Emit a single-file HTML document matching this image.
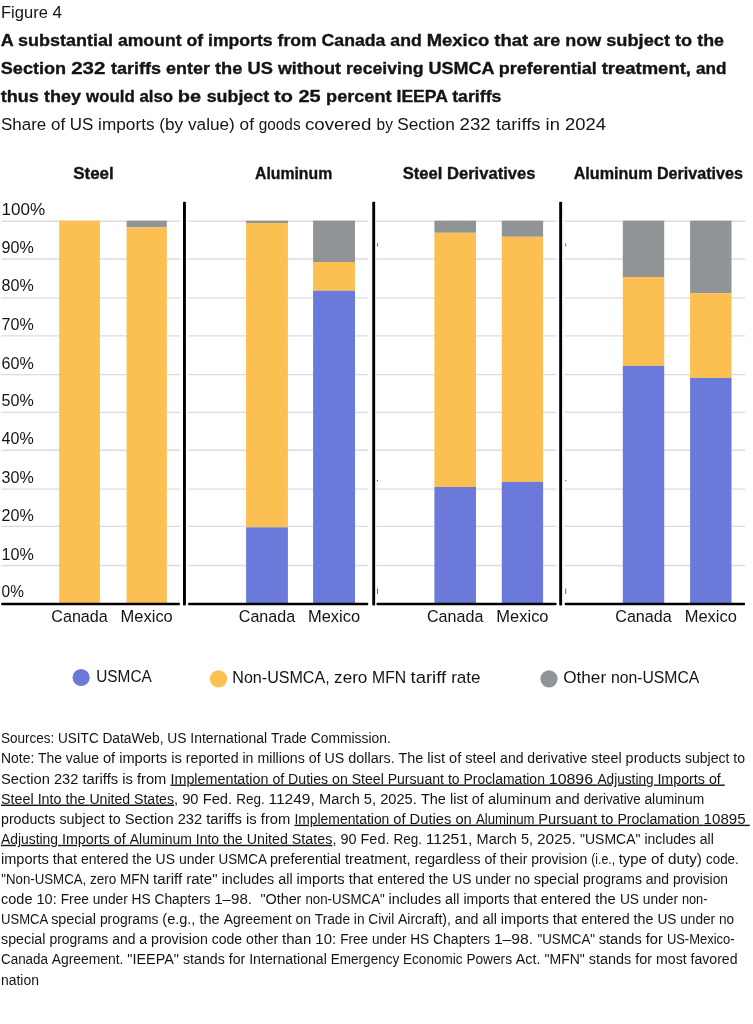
<!DOCTYPE html>
<html lang="en"><head><meta charset="utf-8"><title>Figure 4</title>
<style>
html,body{margin:0;padding:0;background:#fff;}
body{width:753px;height:1024px;overflow:hidden;}
svg{display:block;font-family:"Liberation Sans",sans-serif;fill:#141414;}
svg text{white-space:pre;}
</style></head><body>
<svg width="753" height="1024" viewBox="0 0 753 1024">
<rect width="753" height="1024" fill="#fff"/>
<text y="17.50" font-size="16.3"><tspan x="1.00" textLength="51.50" lengthAdjust="spacingAndGlyphs">Figure </tspan><tspan x="52.50" textLength="9.50" lengthAdjust="spacingAndGlyphs">4</tspan></text>
<text y="45.60" font-size="17" font-weight="700" stroke="#141414" stroke-width="0.35"><tspan x="0.80" textLength="117.10" lengthAdjust="spacingAndGlyphs">A substantial </tspan><tspan x="117.90" textLength="90.10" lengthAdjust="spacingAndGlyphs">amount of </tspan><tspan x="208.00" textLength="113.60" lengthAdjust="spacingAndGlyphs">imports from </tspan><tspan x="321.60" textLength="105.10" lengthAdjust="spacingAndGlyphs">Canada and </tspan><tspan x="426.70" textLength="106.60" lengthAdjust="spacingAndGlyphs">Mexico that </tspan><tspan x="533.30" textLength="72.90" lengthAdjust="spacingAndGlyphs">are now </tspan><tspan x="606.20" textLength="91.10" lengthAdjust="spacingAndGlyphs">subject to </tspan><tspan x="697.30" textLength="26.70" lengthAdjust="spacingAndGlyphs">the</tspan></text>
<text y="73.90" font-size="17" font-weight="700" stroke="#141414" stroke-width="0.35"><tspan x="0.80" textLength="70.40" lengthAdjust="spacingAndGlyphs">Section </tspan><tspan x="71.20" textLength="39.90" lengthAdjust="spacingAndGlyphs">232 </tspan><tspan x="111.10" textLength="103.90" lengthAdjust="spacingAndGlyphs">tariffs enter </tspan><tspan x="215.00" textLength="62.90" lengthAdjust="spacingAndGlyphs">the US </tspan><tspan x="277.90" textLength="68.10" lengthAdjust="spacingAndGlyphs">without </tspan><tspan x="346.00" textLength="82.40" lengthAdjust="spacingAndGlyphs">receiving </tspan><tspan x="428.40" textLength="70.40" lengthAdjust="spacingAndGlyphs">USMCA </tspan><tspan x="498.80" textLength="102.90" lengthAdjust="spacingAndGlyphs">preferential </tspan><tspan x="601.70" textLength="94.40" lengthAdjust="spacingAndGlyphs">treatment, </tspan><tspan x="696.10" textLength="30.40" lengthAdjust="spacingAndGlyphs">and</tspan></text>
<text y="102.10" font-size="17" font-weight="700" stroke="#141414" stroke-width="0.35"><tspan x="0.80" textLength="85.30" lengthAdjust="spacingAndGlyphs">thus they </tspan><tspan x="86.10" textLength="91.70" lengthAdjust="spacingAndGlyphs">would also </tspan><tspan x="177.80" textLength="28.90" lengthAdjust="spacingAndGlyphs">be </tspan><tspan x="206.70" textLength="67.40" lengthAdjust="spacingAndGlyphs">subject </tspan><tspan x="274.10" textLength="52.00" lengthAdjust="spacingAndGlyphs">to 25 </tspan><tspan x="326.10" textLength="70.40" lengthAdjust="spacingAndGlyphs">percent </tspan><tspan x="396.50" textLength="55.70" lengthAdjust="spacingAndGlyphs">IEEPA </tspan><tspan x="452.20" textLength="49.30" lengthAdjust="spacingAndGlyphs">tariffs</tspan></text>
<text y="129.50" font-size="16.3"><tspan x="1.00" textLength="97.10" lengthAdjust="spacingAndGlyphs">Share of US </tspan><tspan x="98.10" textLength="89.90" lengthAdjust="spacingAndGlyphs">imports (by </tspan><tspan x="188.00" textLength="70.70" lengthAdjust="spacingAndGlyphs">value) of </tspan><tspan x="258.70" textLength="46.20" lengthAdjust="spacingAndGlyphs">goods </tspan><tspan x="304.90" textLength="71.70" lengthAdjust="spacingAndGlyphs">covered </tspan><tspan x="376.60" textLength="20.60" lengthAdjust="spacingAndGlyphs">by </tspan><tspan x="397.20" textLength="62.40" lengthAdjust="spacingAndGlyphs">Section </tspan><tspan x="459.60" textLength="36.30" lengthAdjust="spacingAndGlyphs">232 </tspan><tspan x="495.90" textLength="69.10" lengthAdjust="spacingAndGlyphs">tariffs in </tspan><tspan x="565.00" textLength="41.00" lengthAdjust="spacingAndGlyphs">2024</tspan></text>
<text y="178.70" font-size="16.2" font-weight="700" stroke="#141414" stroke-width="0.35"><tspan x="73.20" textLength="40.60" lengthAdjust="spacingAndGlyphs">Steel</tspan></text>
<text y="178.70" font-size="16.2" font-weight="700" stroke="#141414" stroke-width="0.35"><tspan x="255.00" textLength="77.20" lengthAdjust="spacingAndGlyphs">Aluminum</tspan></text>
<text y="178.70" font-size="16.2" font-weight="700" stroke="#141414" stroke-width="0.35"><tspan x="402.70" textLength="132.80" lengthAdjust="spacingAndGlyphs">Steel Derivatives</tspan></text>
<text y="178.70" font-size="16.2" font-weight="700" stroke="#141414" stroke-width="0.35"><tspan x="573.70" textLength="169.30" lengthAdjust="spacingAndGlyphs">Aluminum Derivatives</tspan></text>
<line x1="1.2" x2="179.9" y1="565.50" y2="565.50" stroke="#dcdcdc" stroke-width="1.3"/>
<line x1="1.2" x2="179.9" y1="526.40" y2="526.40" stroke="#dcdcdc" stroke-width="1.3"/>
<line x1="1.2" x2="179.9" y1="489.10" y2="489.10" stroke="#dcdcdc" stroke-width="1.3"/>
<line x1="1.2" x2="179.9" y1="450.25" y2="450.25" stroke="#dcdcdc" stroke-width="1.3"/>
<line x1="1.2" x2="179.9" y1="412.40" y2="412.40" stroke="#dcdcdc" stroke-width="1.3"/>
<line x1="1.2" x2="179.9" y1="374.60" y2="374.60" stroke="#dcdcdc" stroke-width="1.3"/>
<line x1="1.2" x2="179.9" y1="335.90" y2="335.90" stroke="#dcdcdc" stroke-width="1.3"/>
<line x1="1.2" x2="179.9" y1="297.90" y2="297.90" stroke="#dcdcdc" stroke-width="1.3"/>
<line x1="1.2" x2="179.9" y1="259.00" y2="259.00" stroke="#dcdcdc" stroke-width="1.3"/>
<line x1="1.2" x2="179.9" y1="221.25" y2="221.25" stroke="#dcdcdc" stroke-width="1.3"/>
<line x1="188.1" x2="368.2" y1="565.50" y2="565.50" stroke="#dcdcdc" stroke-width="1.3"/>
<line x1="188.1" x2="368.2" y1="526.40" y2="526.40" stroke="#dcdcdc" stroke-width="1.3"/>
<line x1="188.1" x2="368.2" y1="489.10" y2="489.10" stroke="#dcdcdc" stroke-width="1.3"/>
<line x1="188.1" x2="368.2" y1="450.25" y2="450.25" stroke="#dcdcdc" stroke-width="1.3"/>
<line x1="188.1" x2="368.2" y1="412.40" y2="412.40" stroke="#dcdcdc" stroke-width="1.3"/>
<line x1="188.1" x2="368.2" y1="374.60" y2="374.60" stroke="#dcdcdc" stroke-width="1.3"/>
<line x1="188.1" x2="368.2" y1="335.90" y2="335.90" stroke="#dcdcdc" stroke-width="1.3"/>
<line x1="188.1" x2="368.2" y1="297.90" y2="297.90" stroke="#dcdcdc" stroke-width="1.3"/>
<line x1="188.1" x2="368.2" y1="259.00" y2="259.00" stroke="#dcdcdc" stroke-width="1.3"/>
<line x1="188.1" x2="368.2" y1="221.25" y2="221.25" stroke="#dcdcdc" stroke-width="1.3"/>
<line x1="376.5" x2="556.6" y1="565.50" y2="565.50" stroke="#dcdcdc" stroke-width="1.3"/>
<line x1="376.5" x2="556.6" y1="526.40" y2="526.40" stroke="#dcdcdc" stroke-width="1.3"/>
<line x1="376.5" x2="556.6" y1="489.10" y2="489.10" stroke="#dcdcdc" stroke-width="1.3"/>
<line x1="376.5" x2="556.6" y1="450.25" y2="450.25" stroke="#dcdcdc" stroke-width="1.3"/>
<line x1="376.5" x2="556.6" y1="412.40" y2="412.40" stroke="#dcdcdc" stroke-width="1.3"/>
<line x1="376.5" x2="556.6" y1="374.60" y2="374.60" stroke="#dcdcdc" stroke-width="1.3"/>
<line x1="376.5" x2="556.6" y1="335.90" y2="335.90" stroke="#dcdcdc" stroke-width="1.3"/>
<line x1="376.5" x2="556.6" y1="297.90" y2="297.90" stroke="#dcdcdc" stroke-width="1.3"/>
<line x1="376.5" x2="556.6" y1="259.00" y2="259.00" stroke="#dcdcdc" stroke-width="1.3"/>
<line x1="376.5" x2="556.6" y1="221.25" y2="221.25" stroke="#dcdcdc" stroke-width="1.3"/>
<line x1="564.7" x2="745.0" y1="565.50" y2="565.50" stroke="#dcdcdc" stroke-width="1.3"/>
<line x1="564.7" x2="745.0" y1="526.40" y2="526.40" stroke="#dcdcdc" stroke-width="1.3"/>
<line x1="564.7" x2="745.0" y1="489.10" y2="489.10" stroke="#dcdcdc" stroke-width="1.3"/>
<line x1="564.7" x2="745.0" y1="450.25" y2="450.25" stroke="#dcdcdc" stroke-width="1.3"/>
<line x1="564.7" x2="745.0" y1="412.40" y2="412.40" stroke="#dcdcdc" stroke-width="1.3"/>
<line x1="564.7" x2="745.0" y1="374.60" y2="374.60" stroke="#dcdcdc" stroke-width="1.3"/>
<line x1="564.7" x2="745.0" y1="335.90" y2="335.90" stroke="#dcdcdc" stroke-width="1.3"/>
<line x1="564.7" x2="745.0" y1="297.90" y2="297.90" stroke="#dcdcdc" stroke-width="1.3"/>
<line x1="564.7" x2="745.0" y1="259.00" y2="259.00" stroke="#dcdcdc" stroke-width="1.3"/>
<line x1="564.7" x2="745.0" y1="221.25" y2="221.25" stroke="#dcdcdc" stroke-width="1.3"/>
<text y="597.20" font-size="16.3"><tspan x="1.60" textLength="22.30" lengthAdjust="spacingAndGlyphs">0%</tspan></text>
<text y="559.75" font-size="16.3"><tspan x="1.60" textLength="32.20" lengthAdjust="spacingAndGlyphs">10%</tspan></text>
<text y="520.75" font-size="16.3"><tspan x="1.60" textLength="32.20" lengthAdjust="spacingAndGlyphs">20%</tspan></text>
<text y="482.90" font-size="16.3"><tspan x="1.60" textLength="32.20" lengthAdjust="spacingAndGlyphs">30%</tspan></text>
<text y="444.00" font-size="16.3"><tspan x="1.60" textLength="32.20" lengthAdjust="spacingAndGlyphs">40%</tspan></text>
<text y="406.40" font-size="16.3"><tspan x="1.60" textLength="32.20" lengthAdjust="spacingAndGlyphs">50%</tspan></text>
<text y="368.60" font-size="16.3"><tspan x="1.60" textLength="32.20" lengthAdjust="spacingAndGlyphs">60%</tspan></text>
<text y="329.60" font-size="16.3"><tspan x="1.60" textLength="32.20" lengthAdjust="spacingAndGlyphs">70%</tspan></text>
<text y="291.25" font-size="16.3"><tspan x="1.60" textLength="32.20" lengthAdjust="spacingAndGlyphs">80%</tspan></text>
<text y="252.75" font-size="16.3"><tspan x="1.60" textLength="32.20" lengthAdjust="spacingAndGlyphs">90%</tspan></text>
<text y="215.40" font-size="16.3"><tspan x="1.60" textLength="43.60" lengthAdjust="spacingAndGlyphs">100%</tspan></text>
<rect x="59.2" y="220.7" width="40.70" height="382.80" fill="#FCBF52"/>
<rect x="126.6" y="220.7" width="40.20" height="6.70" fill="#919497"/>
<rect x="126.6" y="227.4" width="40.20" height="376.10" fill="#FCBF52"/>
<rect x="246.1" y="220.7" width="41.80" height="2.30" fill="#919497"/>
<rect x="246.1" y="223.0" width="41.80" height="304.30" fill="#FCBF52"/>
<rect x="246.1" y="527.3" width="41.80" height="76.20" fill="#6A79DA"/>
<rect x="313.1" y="220.7" width="41.90" height="41.30" fill="#919497"/>
<rect x="313.1" y="262.0" width="41.90" height="28.70" fill="#FCBF52"/>
<rect x="313.1" y="290.7" width="41.90" height="312.80" fill="#6A79DA"/>
<rect x="434.4" y="220.7" width="41.60" height="12.10" fill="#919497"/>
<rect x="434.4" y="232.8" width="41.60" height="254.20" fill="#FCBF52"/>
<rect x="434.4" y="487.0" width="41.60" height="116.50" fill="#6A79DA"/>
<rect x="501.8" y="220.7" width="41.30" height="16.10" fill="#919497"/>
<rect x="501.8" y="236.8" width="41.30" height="245.10" fill="#FCBF52"/>
<rect x="501.8" y="481.9" width="41.30" height="121.60" fill="#6A79DA"/>
<rect x="622.8" y="220.7" width="41.40" height="56.30" fill="#919497"/>
<rect x="622.8" y="277.0" width="41.40" height="88.90" fill="#FCBF52"/>
<rect x="622.8" y="365.9" width="41.40" height="237.60" fill="#6A79DA"/>
<rect x="690.1" y="220.7" width="41.40" height="72.40" fill="#919497"/>
<rect x="690.1" y="293.1" width="41.40" height="84.90" fill="#FCBF52"/>
<rect x="690.1" y="378.0" width="41.40" height="225.50" fill="#6A79DA"/>
<text y="622.40" font-size="16.3"><tspan x="51.35" textLength="56.40" lengthAdjust="spacingAndGlyphs">Canada</tspan></text>
<text y="622.40" font-size="16.3"><tspan x="120.60" textLength="52.20" lengthAdjust="spacingAndGlyphs">Mexico</tspan></text>
<text y="622.40" font-size="16.3"><tspan x="238.80" textLength="56.40" lengthAdjust="spacingAndGlyphs">Canada</tspan></text>
<text y="622.40" font-size="16.3"><tspan x="307.95" textLength="52.20" lengthAdjust="spacingAndGlyphs">Mexico</tspan></text>
<text y="622.40" font-size="16.3"><tspan x="427.00" textLength="56.40" lengthAdjust="spacingAndGlyphs">Canada</tspan></text>
<text y="622.40" font-size="16.3"><tspan x="496.35" textLength="52.20" lengthAdjust="spacingAndGlyphs">Mexico</tspan></text>
<text y="622.40" font-size="16.3"><tspan x="615.30" textLength="56.40" lengthAdjust="spacingAndGlyphs">Canada</tspan></text>
<text y="622.40" font-size="16.3"><tspan x="684.70" textLength="52.20" lengthAdjust="spacingAndGlyphs">Mexico</tspan></text>
<rect x="1.2" y="602.8" width="178.70" height="2.5" rx="0.8" fill="#000"/>
<rect x="188.1" y="602.8" width="180.10" height="2.5" rx="0.8" fill="#000"/>
<rect x="376.5" y="602.8" width="180.10" height="2.5" rx="0.8" fill="#000"/>
<rect x="564.7" y="602.8" width="180.30" height="2.5" rx="0.8" fill="#000"/>
<rect x="183.00" y="201.8" width="2.9" height="403.8" rx="0.8" fill="#000"/>
<rect x="372.25" y="201.8" width="2.9" height="403.8" rx="0.8" fill="#000"/>
<rect x="559.20" y="201.8" width="2.9" height="403.8" rx="0.8" fill="#000"/>
<rect x="377.0" y="243.3" width="1" height="3" fill="#666"/>
<rect x="377.0" y="480.0" width="1" height="1.3" fill="#555"/>
<rect x="377.0" y="588.5" width="1" height="5.5" fill="#666"/>
<rect x="565.2" y="243.3" width="1" height="3" fill="#666"/>
<rect x="565.2" y="480.0" width="1" height="1.3" fill="#555"/>
<rect x="565.2" y="588.5" width="1" height="5.5" fill="#666"/>
<circle cx="81.1" cy="677.5" r="8.6" fill="#6A79DA"/>
<circle cx="218.5" cy="678.8" r="8.6" fill="#FCBF52"/>
<circle cx="549.0" cy="678.8" r="8.6" fill="#919497"/>
<text y="682.40" font-size="16.3"><tspan x="96.20" textLength="55.60" lengthAdjust="spacingAndGlyphs">USMCA</tspan></text>
<text y="683.40" font-size="16.3"><tspan x="232.30" textLength="101.80" lengthAdjust="spacingAndGlyphs">Non-USMCA, </tspan><tspan x="334.10" textLength="38.00" lengthAdjust="spacingAndGlyphs">zero </tspan><tspan x="372.10" textLength="38.40" lengthAdjust="spacingAndGlyphs">MFN </tspan><tspan x="410.50" textLength="40.70" lengthAdjust="spacingAndGlyphs">tariff </tspan><tspan x="451.20" textLength="29.40" lengthAdjust="spacingAndGlyphs">rate</tspan></text>
<text y="683.40" font-size="16.3"><tspan x="563.20" textLength="47.70" lengthAdjust="spacingAndGlyphs">Other </tspan><tspan x="610.90" textLength="88.40" lengthAdjust="spacingAndGlyphs">non-USMCA</tspan></text>
<text y="743.30" font-size="14.0"><tspan x="1.00" textLength="101.40" lengthAdjust="spacingAndGlyphs">Sources: USITC </tspan><tspan x="102.40" textLength="87.90" lengthAdjust="spacingAndGlyphs">DataWeb, US </tspan><tspan x="190.30" textLength="80.80" lengthAdjust="spacingAndGlyphs">International </tspan><tspan x="271.10" textLength="119.70" lengthAdjust="spacingAndGlyphs">Trade Commission.</tspan></text>
<text y="763.40" font-size="14.0"><tspan x="1.00" textLength="101.90" lengthAdjust="spacingAndGlyphs">Note: The value </tspan><tspan x="102.90" textLength="82.90" lengthAdjust="spacingAndGlyphs">of imports is </tspan><tspan x="185.80" textLength="71.60" lengthAdjust="spacingAndGlyphs">reported in </tspan><tspan x="257.40" textLength="90.90" lengthAdjust="spacingAndGlyphs">millions of US </tspan><tspan x="348.30" textLength="78.90" lengthAdjust="spacingAndGlyphs">dollars. The </tspan><tspan x="427.20" textLength="72.90" lengthAdjust="spacingAndGlyphs">list of steel </tspan><tspan x="500.10" textLength="91.10" lengthAdjust="spacingAndGlyphs">and derivative </tspan><tspan x="591.20" textLength="93.70" lengthAdjust="spacingAndGlyphs">steel products </tspan><tspan x="684.90" textLength="60.10" lengthAdjust="spacingAndGlyphs">subject to</tspan></text>
<text y="783.50" font-size="14.0"><tspan x="1.00" textLength="81.40" lengthAdjust="spacingAndGlyphs">Section 232 </tspan><tspan x="82.40" textLength="88.10" lengthAdjust="spacingAndGlyphs">tariffs is from </tspan><tspan x="170.50" textLength="101.90" lengthAdjust="spacingAndGlyphs"><tspan text-decoration="underline">Implementation </tspan></tspan><tspan x="272.40" textLength="79.30" lengthAdjust="spacingAndGlyphs"><tspan text-decoration="underline">of Duties on </tspan></tspan><tspan x="351.70" textLength="96.20" lengthAdjust="spacingAndGlyphs"><tspan text-decoration="underline">Steel Pursuant </tspan></tspan><tspan x="447.90" textLength="100.90" lengthAdjust="spacingAndGlyphs"><tspan text-decoration="underline">to Proclamation </tspan></tspan><tspan x="548.80" textLength="48.70" lengthAdjust="spacingAndGlyphs"><tspan text-decoration="underline">10896 </tspan></tspan><tspan x="597.50" textLength="59.90" lengthAdjust="spacingAndGlyphs"><tspan text-decoration="underline">Adjusting </tspan></tspan><tspan x="657.40" textLength="67.40" lengthAdjust="spacingAndGlyphs"><tspan text-decoration="underline">Imports of </tspan></tspan></text>
<text y="803.60" font-size="14.0"><tspan x="1.00" textLength="88.40" lengthAdjust="spacingAndGlyphs"><tspan text-decoration="underline">Steel Into the </tspan></tspan><tspan x="89.40" textLength="84.60" lengthAdjust="spacingAndGlyphs"><tspan text-decoration="underline">United States</tspan></tspan><tspan x="174.00" textLength="62.20" lengthAdjust="spacingAndGlyphs">, 90 Fed. </tspan><tspan x="236.20" textLength="32.20" lengthAdjust="spacingAndGlyphs">Reg. </tspan><tspan x="268.40" textLength="50.70" lengthAdjust="spacingAndGlyphs">11249, </tspan><tspan x="319.10" textLength="101.80" lengthAdjust="spacingAndGlyphs">March 5, 2025. </tspan><tspan x="420.90" textLength="67.00" lengthAdjust="spacingAndGlyphs">The list of </tspan><tspan x="487.90" textLength="95.80" lengthAdjust="spacingAndGlyphs">aluminum and </tspan><tspan x="583.70" textLength="60.70" lengthAdjust="spacingAndGlyphs">derivative </tspan><tspan x="644.40" textLength="59.80" lengthAdjust="spacingAndGlyphs">aluminum</tspan></text>
<text y="823.70" font-size="14.0"><tspan x="1.00" textLength="58.40" lengthAdjust="spacingAndGlyphs">products </tspan><tspan x="59.40" textLength="65.40" lengthAdjust="spacingAndGlyphs">subject to </tspan><tspan x="124.80" textLength="81.40" lengthAdjust="spacingAndGlyphs">Section 232 </tspan><tspan x="206.20" textLength="88.20" lengthAdjust="spacingAndGlyphs">tariffs is from </tspan><tspan x="294.40" textLength="98.80" lengthAdjust="spacingAndGlyphs"><tspan text-decoration="underline">Implementation </tspan></tspan><tspan x="393.20" textLength="82.70" lengthAdjust="spacingAndGlyphs"><tspan text-decoration="underline">of Duties on </tspan></tspan><tspan x="475.90" textLength="62.40" lengthAdjust="spacingAndGlyphs"><tspan text-decoration="underline">Aluminum </tspan></tspan><tspan x="538.30" textLength="79.10" lengthAdjust="spacingAndGlyphs"><tspan text-decoration="underline">Pursuant to </tspan></tspan><tspan x="617.40" textLength="86.20" lengthAdjust="spacingAndGlyphs"><tspan text-decoration="underline">Proclamation </tspan></tspan><tspan x="703.60" textLength="46.20" lengthAdjust="spacingAndGlyphs"><tspan text-decoration="underline">10895 </tspan></tspan></text>
<text y="843.80" font-size="14.0"><tspan x="1.00" textLength="60.90" lengthAdjust="spacingAndGlyphs"><tspan text-decoration="underline">Adjusting </tspan></tspan><tspan x="61.90" textLength="67.90" lengthAdjust="spacingAndGlyphs"><tspan text-decoration="underline">Imports of </tspan></tspan><tspan x="129.80" textLength="93.20" lengthAdjust="spacingAndGlyphs"><tspan text-decoration="underline">Aluminum Into </tspan></tspan><tspan x="223.00" textLength="68.80" lengthAdjust="spacingAndGlyphs"><tspan text-decoration="underline">the United </tspan></tspan><tspan x="291.80" textLength="40.60" lengthAdjust="spacingAndGlyphs"><tspan text-decoration="underline">States</tspan></tspan><tspan x="332.40" textLength="61.10" lengthAdjust="spacingAndGlyphs">, 90 Fed. </tspan><tspan x="393.50" textLength="32.30" lengthAdjust="spacingAndGlyphs">Reg. </tspan><tspan x="425.80" textLength="50.80" lengthAdjust="spacingAndGlyphs">11251, </tspan><tspan x="476.60" textLength="60.40" lengthAdjust="spacingAndGlyphs">March 5, </tspan><tspan x="537.00" textLength="43.00" lengthAdjust="spacingAndGlyphs">2025. </tspan><tspan x="580.00" textLength="64.40" lengthAdjust="spacingAndGlyphs">"USMCA" </tspan><tspan x="644.40" textLength="69.40" lengthAdjust="spacingAndGlyphs">includes all</tspan></text>
<text y="863.90" font-size="14.0"><tspan x="1.00" textLength="80.10" lengthAdjust="spacingAndGlyphs">imports that </tspan><tspan x="81.10" textLength="137.40" lengthAdjust="spacingAndGlyphs">entered the US under </tspan><tspan x="218.50" textLength="51.40" lengthAdjust="spacingAndGlyphs">USMCA </tspan><tspan x="269.90" textLength="75.10" lengthAdjust="spacingAndGlyphs">preferential </tspan><tspan x="345.00" textLength="69.70" lengthAdjust="spacingAndGlyphs">treatment, </tspan><tspan x="414.70" textLength="85.40" lengthAdjust="spacingAndGlyphs">regardless of </tspan><tspan x="500.10" textLength="91.10" lengthAdjust="spacingAndGlyphs">their provision </tspan><tspan x="591.20" textLength="27.50" lengthAdjust="spacingAndGlyphs">(i.e., </tspan><tspan x="618.70" textLength="32.40" lengthAdjust="spacingAndGlyphs">type </tspan><tspan x="651.10" textLength="55.00" lengthAdjust="spacingAndGlyphs">of duty) </tspan><tspan x="706.10" textLength="32.60" lengthAdjust="spacingAndGlyphs">code.</tspan></text>
<text y="884.00" font-size="14.0"><tspan x="1.30" textLength="88.60" lengthAdjust="spacingAndGlyphs">"Non-USMCA, </tspan><tspan x="89.90" textLength="63.20" lengthAdjust="spacingAndGlyphs">zero MFN </tspan><tspan x="153.10" textLength="68.60" lengthAdjust="spacingAndGlyphs">tariff rate" </tspan><tspan x="221.70" textLength="74.90" lengthAdjust="spacingAndGlyphs">includes all </tspan><tspan x="296.60" textLength="80.60" lengthAdjust="spacingAndGlyphs">imports that </tspan><tspan x="377.20" textLength="75.00" lengthAdjust="spacingAndGlyphs">entered the </tspan><tspan x="452.20" textLength="81.60" lengthAdjust="spacingAndGlyphs">US under no </tspan><tspan x="533.80" textLength="49.20" lengthAdjust="spacingAndGlyphs">special </tspan><tspan x="583.00" textLength="89.90" lengthAdjust="spacingAndGlyphs">programs and </tspan><tspan x="672.90" textLength="55.10" lengthAdjust="spacingAndGlyphs">provision</tspan></text>
<text y="904.10" font-size="14.0"><tspan x="1.00" textLength="59.70" lengthAdjust="spacingAndGlyphs">code 10: </tspan><tspan x="60.70" textLength="70.90" lengthAdjust="spacingAndGlyphs">Free under </tspan><tspan x="131.60" textLength="82.60" lengthAdjust="spacingAndGlyphs">HS Chapters </tspan><tspan x="214.20" textLength="46.20" lengthAdjust="spacingAndGlyphs">1–98.  </tspan><tspan x="260.40" textLength="45.00" lengthAdjust="spacingAndGlyphs">"Other </tspan><tspan x="305.40" textLength="83.10" lengthAdjust="spacingAndGlyphs">non-USMCA" </tspan><tspan x="388.50" textLength="74.90" lengthAdjust="spacingAndGlyphs">includes all </tspan><tspan x="463.40" textLength="77.40" lengthAdjust="spacingAndGlyphs">imports that </tspan><tspan x="540.80" textLength="79.10" lengthAdjust="spacingAndGlyphs">entered the </tspan><tspan x="619.90" textLength="62.00" lengthAdjust="spacingAndGlyphs">US under </tspan><tspan x="681.90" textLength="25.60" lengthAdjust="spacingAndGlyphs">non-</tspan></text>
<text y="924.20" font-size="14.0"><tspan x="1.00" textLength="50.20" lengthAdjust="spacingAndGlyphs">USMCA </tspan><tspan x="51.20" textLength="48.70" lengthAdjust="spacingAndGlyphs">special </tspan><tspan x="99.90" textLength="62.40" lengthAdjust="spacingAndGlyphs">programs </tspan><tspan x="162.30" textLength="61.40" lengthAdjust="spacingAndGlyphs">(e.g., the </tspan><tspan x="223.70" textLength="91.10" lengthAdjust="spacingAndGlyphs">Agreement on </tspan><tspan x="314.80" textLength="83.20" lengthAdjust="spacingAndGlyphs">Trade in Civil </tspan><tspan x="398.00" textLength="56.70" lengthAdjust="spacingAndGlyphs">Aircraft), </tspan><tspan x="454.70" textLength="46.10" lengthAdjust="spacingAndGlyphs">and all </tspan><tspan x="500.80" textLength="80.40" lengthAdjust="spacingAndGlyphs">imports that </tspan><tspan x="581.20" textLength="76.20" lengthAdjust="spacingAndGlyphs">entered the </tspan><tspan x="657.40" textLength="76.80" lengthAdjust="spacingAndGlyphs">US under no</tspan></text>
<text y="944.30" font-size="14.0"><tspan x="1.00" textLength="48.40" lengthAdjust="spacingAndGlyphs">special </tspan><tspan x="49.40" textLength="89.90" lengthAdjust="spacingAndGlyphs">programs and </tspan><tspan x="139.30" textLength="72.40" lengthAdjust="spacingAndGlyphs">a provision </tspan><tspan x="211.70" textLength="70.40" lengthAdjust="spacingAndGlyphs">code other </tspan><tspan x="282.10" textLength="58.20" lengthAdjust="spacingAndGlyphs">than 10: </tspan><tspan x="340.30" textLength="92.60" lengthAdjust="spacingAndGlyphs">Free under HS </tspan><tspan x="432.90" textLength="61.00" lengthAdjust="spacingAndGlyphs">Chapters </tspan><tspan x="493.90" textLength="43.60" lengthAdjust="spacingAndGlyphs">1–98. </tspan><tspan x="537.50" textLength="61.20" lengthAdjust="spacingAndGlyphs">"USMCA" </tspan><tspan x="598.70" textLength="68.20" lengthAdjust="spacingAndGlyphs">stands for </tspan><tspan x="666.90" textLength="67.60" lengthAdjust="spacingAndGlyphs">US-Mexico-</tspan></text>
<text y="964.40" font-size="14.0"><tspan x="1.00" textLength="50.70" lengthAdjust="spacingAndGlyphs">Canada </tspan><tspan x="51.70" textLength="75.60" lengthAdjust="spacingAndGlyphs">Agreement. </tspan><tspan x="127.30" textLength="55.70" lengthAdjust="spacingAndGlyphs">"IEEPA" </tspan><tspan x="183.00" textLength="66.20" lengthAdjust="spacingAndGlyphs">stands for </tspan><tspan x="249.20" textLength="81.60" lengthAdjust="spacingAndGlyphs">International </tspan><tspan x="330.80" textLength="72.20" lengthAdjust="spacingAndGlyphs">Emergency </tspan><tspan x="403.00" textLength="63.40" lengthAdjust="spacingAndGlyphs">Economic </tspan><tspan x="466.40" textLength="49.40" lengthAdjust="spacingAndGlyphs">Powers </tspan><tspan x="515.80" textLength="28.70" lengthAdjust="spacingAndGlyphs">Act. </tspan><tspan x="544.50" textLength="44.20" lengthAdjust="spacingAndGlyphs">"MFN" </tspan><tspan x="588.70" textLength="67.40" lengthAdjust="spacingAndGlyphs">stands for </tspan><tspan x="656.10" textLength="81.40" lengthAdjust="spacingAndGlyphs">most favored</tspan></text>
<text y="984.50" font-size="14.0"><tspan x="1.00" textLength="37.90" lengthAdjust="spacingAndGlyphs">nation</tspan></text>
</svg>
</body></html>
